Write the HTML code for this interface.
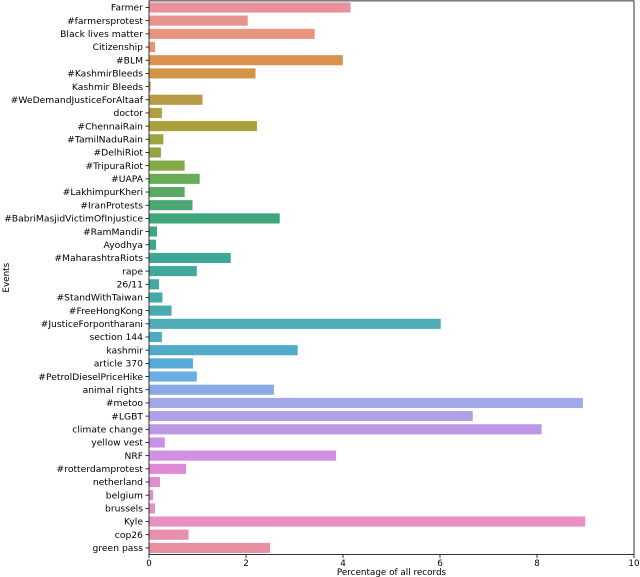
<!DOCTYPE html>
<html><head><meta charset="utf-8"><style>
body{margin:0;background:#fff}
svg{display:block;font-family:"DejaVu Sans","Liberation Sans",sans-serif}
</style></head><body>
<svg id="chart" width="640" height="577"></svg>
<script>
const categories=["Farmer","#farmersprotest","Black lives matter","Citizenship","#BLM","#KashmirBleeds","Kashmir Bleeds","#WeDemandJusticeForAltaaf","doctor","#ChennaiRain","#TamilNaduRain","#DelhiRiot","#TripuraRiot","#UAPA","#LakhimpurKheri","#IranProtests","#BabriMasjidVictimOfInjustice","#RamMandir","Ayodhya","#MaharashtraRiots","rape","26/11","#StandWithTaiwan","#FreeHongKong","#JusticeForpontharani","section 144","kashmir","article 370","#PetrolDieselPriceHike","animal rights","#metoo","#LGBT","climate change","yellow vest","NRF","#rotterdamprotest","netherland","belgium","brussels","Kyle","cop26","green pass"];
const values=[4.16,2.04,3.42,0.13,4.0,2.2,0.04,1.11,0.27,2.23,0.3,0.25,0.74,1.05,0.74,0.9,2.7,0.17,0.15,1.69,0.99,0.21,0.28,0.47,6.02,0.27,3.07,0.91,0.99,2.58,8.95,6.68,8.1,0.33,3.86,0.77,0.23,0.09,0.13,9.0,0.82,2.5];
const xTicks=[0,2,4,6,8,10];
const NS="http://www.w3.org/2000/svg";
const svg=document.getElementById('chart');
const L=149,R=634,T=0.9,B=554.5;
const x=v=>L+(R-L)*v/10;
const band=(B-T)/categories.length;
const y=i=>T+band*i;
const anchors=[[0,[232,144,156]],[3,[232,150,112]],[4,[217,146,78]],[5,[210,148,70]],[7,[185,155,70]],[9,[170,160,60]],[12,[132,170,70]],[13,[104,172,88]],[16,[62,165,125]],[19,[62,168,150]],[23,[72,170,175]],[24,[78,172,184]],[26,[80,170,200]],[27,[85,170,215]],[28,[106,174,228]],[29,[138,170,230]],[30,[160,168,232]],[31,[176,160,232]],[32,[190,150,230]],[34,[210,144,226]],[35,[222,138,214]],[39,[232,144,192]],[41,[232,144,160]]];
function col(i){let a=anchors[0],b=anchors[anchors.length-1];
for(let k=0;k<anchors.length-1;k++){if(i>=anchors[k][0]&&i<=anchors[k+1][0]){a=anchors[k];b=anchors[k+1];break;}}
const f=b[0]===a[0]?0:(i-a[0])/(b[0]-a[0]);
return 'rgb('+[0,1,2].map(k=>Math.round(a[1][k]*(1-f)+b[1][k]*f)).join(',')+')';}
function el(t,at,p){const e=document.createElementNS(NS,t);for(const k in at)e.setAttribute(k,at[k]);(p||svg).appendChild(e);return e;}
categories.forEach((c,i)=>{
 const r=el('rect',{x:x(0),y:y(i)+band*0.1,width:x(values[i])-x(0),height:band*0.8,fill:col(i),stroke:'#fff','stroke-width':0.4});
 
 
 const cy=y(i)+band/2;
 el('line',{x1:L-3.5,x2:L,y1:cy,y2:cy,stroke:'#000','stroke-width':0.8});
 const t=el('text',{x:L-6,y:cy+3.2,'text-anchor':'end','font-size':'9.2',fill:'#000'});
 t.textContent=c;
 
 
});
xTicks.forEach(v=>{
 el('line',{x1:x(v),x2:x(v),y1:B,y2:B+3.5,stroke:'#000','stroke-width':0.8});
 const t=el('text',{x:x(v),y:566,'text-anchor':'middle','font-size':'8.8'});
 t.textContent=v;
 
 
});
const f=el('rect',{x:L,y:T,width:R-L,height:B-T,fill:'none',stroke:'#000','stroke-width':0.8});


const xl=el('text',{x:(L+R)/2,y:575,'text-anchor':'middle','font-size':'8.8'});
xl.textContent='Percentage of all records';


const yl=el('text',{x:0,y:0,'text-anchor':'middle','font-size':'8.8',transform:'translate(9,'+((T+B)/2)+') rotate(-90)'});
yl.textContent='Events';


</script>
</body></html>
